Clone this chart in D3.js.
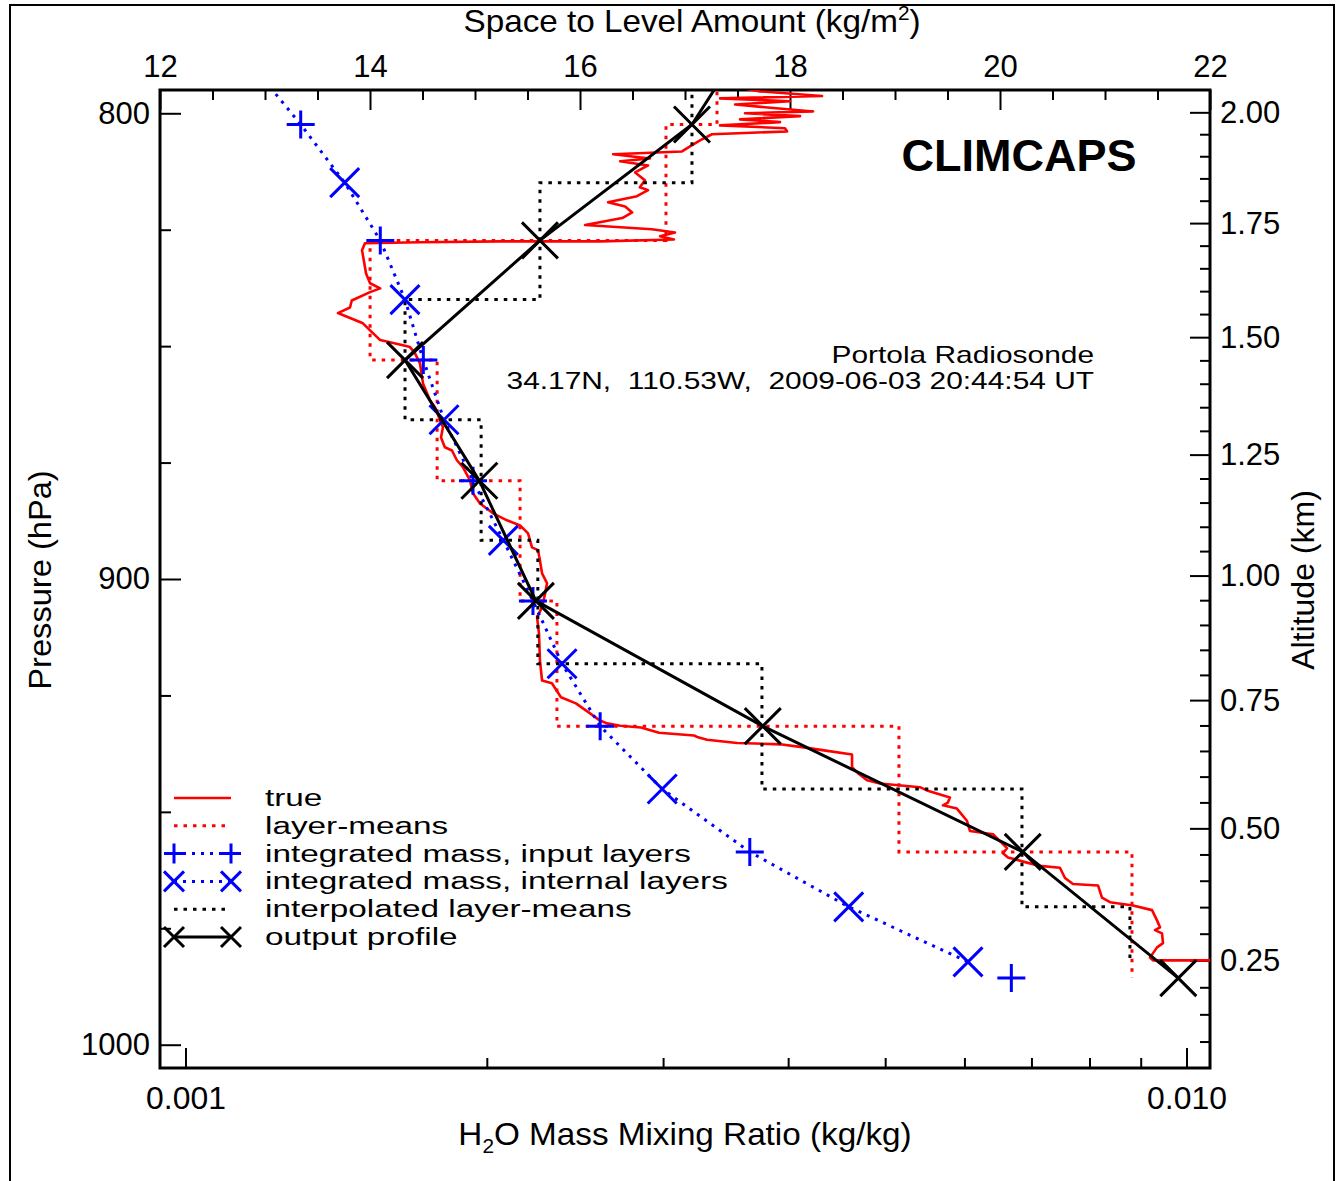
<!DOCTYPE html>
<html><head><meta charset="utf-8">
<script src="https://cdn.jsdelivr.net/npm/d3@7"></script>
<style>
body{margin:0;background:#fff;}
svg{display:block;}
text{font-family:"Liberation Sans",Arial,Helvetica,sans-serif;fill:#000;}
</style></head><body>
<svg id="chart" width="1344" height="1181"></svg>
<script>
// ---------------- DATA ----------------
// Radiosonde "true" profile: pressure (hPa) and H2O mass mixing ratio (kg/kg)
const truePressure = [792.9,795.3,796.3,796.8,797.4,798.1,798.7,799.6,800.0,800.6,801.3,801.9,802.6,803.2,803.9,804.5,805.8,807.1,808.2,808.8,809.7,810.3,811.2,812.7,814.4,815.9,816.5,817.8,819.1,820.0,821.3,822.5,824.0,824.9,825.6,826.4,827.1,827.5,827.5,827.7,827.9,829.4,834.4,836.5,837.6,838.4,840.2,841.7,842.9,845.1,846.6,848.7,849.8,850.2,851.5,853.7,858.0,861.6,863.1,867.4,869.6,871.7,872.4,874.5,876.0,878.8,881.6,883.8,885.9,887.4,888.5,890.2,893.2,893.8,896.0,898.8,900.9,903.1,906.1,908.2,911.7,917.5,921.8,922.4,925.4,926.7,928.7,930.4,931.0,931.5,931.9,933.0,933.6,934.0,934.5,935.2,935.5,936.1,936.8,937.7,940.4,941.7,943.2,943.9,944.7,945.4,946.9,948.0,948.6,949.3,951.9,954.1,954.8,956.3,957.8,958.9,959.8,960.9,961.6,962.0,964.2,965.5,965.8,968.4,969.4,970.1,971.1,973.3,974.8,975.4,976.1,978.2,979.1,981.3,981.9,981.9];
const trueMMR = [0.003266,0.003749,0.004324,0.003420,0.004017,0.003540,0.003793,0.004236,0.003622,0.004111,0.003581,0.003926,0.003420,0.003971,0.003990,0.003357,0.003266,0.003192,0.003133,0.002674,0.002911,0.002718,0.002898,0.002813,0.002877,0.002844,0.002898,0.002825,0.002643,0.002749,0.002794,0.002731,0.002507,0.002924,0.003083,0.002979,0.003076,0.002595,0.002062,0.001715,0.001511,0.001501,0.001515,0.001529,0.001565,0.001529,0.001466,0.001460,0.001420,0.001504,0.001529,0.001565,0.001649,0.001676,0.001695,0.001715,0.001727,0.001755,0.001775,0.001808,0.001800,0.001816,0.001846,0.001867,0.001893,0.001924,0.001937,0.001969,0.002029,0.002095,0.002159,0.002199,0.002219,0.002250,0.002260,0.002271,0.002297,0.002287,0.002271,0.002245,0.002255,0.002260,0.002271,0.002323,0.002372,0.002455,0.002530,0.002595,0.002637,0.002718,0.002851,0.002972,0.003221,0.003251,0.003319,0.003556,0.003926,0.004130,0.004344,0.004633,0.004633,0.004697,0.004796,0.004941,0.005416,0.005504,0.005803,0.005776,0.005710,0.005897,0.006034,0.006076,0.006407,0.006511,0.006617,0.006556,0.006632,0.006928,0.007139,0.007474,0.007561,0.007702,0.008158,0.008233,0.008386,0.008842,0.009237,0.009344,0.009408,0.009300,0.009452,0.009474,0.009344,0.009194,0.009258,0.011050];

// Input layer boundaries (hPa) and layer-mean mixing ratios (kg/kg)
const inputLayerBounds = [777.0,802.4,827.3,853.0,878.9,904.7,931.6,958.6,985.7];
const layerMeanMMR = [0.003396,0.003020,0.001529,0.001784,0.002159,0.002350,0.005161,0.008821];

// Integrated mass, input levels (hPa, kg/m^2)
const inputLevelP = [802.4,827.3,853.0,878.9,904.7,931.6,958.6,985.7];
const massInput = [13.340,14.098,14.508,14.981,15.552,16.192,17.617,20.108];

// Integrated mass, internal levels (hPa, kg/m^2)
const internalLevelP = [789.9,814.9,840.0,865.8,891.7,918.2,945.1,970.4,982.2];
const massInternal = [12.885,13.759,14.333,14.705,15.270,15.829,16.783,18.559,19.695];

// Interpolated layer-means on internal layers (kg/kg)
const interpLayerMMR = [0.003206,0.002260,0.001657,0.001974,0.002249,0.003766,0.006849,0.008780];

// Output profile (hPa, kg/kg)
const outputP = [777.0,802.4,827.3,853.0,878.9,904.7,931.6,958.6,985.7];
const outputMMR = [0.003819,0.003206,0.002260,0.001657,0.001966,0.002239,0.003773,0.006861,0.009813];

// Axis ticks
const pressureMajor = [800,900,1000];
const pressureMinor = [825,850,875,925,950,975];
const massMajor = [12,14,16,18,20,22];
const massMinor = [12.5,13,13.5,14.5,15,15.5,16.5,17,17.5,18.5,19,19.5,20.5,21,21.5];
const mmrMajor = [0.001,0.010];
const mmrMajorLabels = ["0.001","0.010"];
const mmrMinor = [0.002,0.003,0.004,0.005,0.006,0.007,0.008,0.009];
const altMajor = [0.25,0.50,0.75,1.00,1.25,1.50,1.75,2.00];
const altMinor = [0.10,0.15,0.20,0.30,0.35,0.40,0.45,0.55,0.60,0.65,0.70,0.80,0.85,0.90,0.95,1.05,1.10,1.15,1.20,1.30,1.35,1.40,1.45,1.55,1.60,1.65,1.70,1.80,1.85,1.90,1.95];
// altitude <-> pressure (hypsometric, isothermal)
const surfaceP = 1011.1, scaleHeight = 8.531;
const alt2p = z => surfaceP*Math.exp(-z/scaleHeight);

const legendLabels = ["true","layer-means","integrated mass, input layers","integrated mass, internal layers","interpolated layer-means","output profile"];

// ---------------- CHART ----------------
const W=1344,H=1181;
const L=160,R=1210,T=90,B=1068;
const svg=d3.select("#chart");
svg.append("rect").attr("width",W).attr("height",H).attr("fill","#fff");
svg.append("rect").attr("x",10).attr("y",5).attr("width",1324).attr("height",1200)
  .attr("fill","none").attr("stroke","#000").attr("stroke-width",2);

const x = d3.scaleLog().domain([0.0009431,0.010555]).range([L,R]);
const xTop = d3.scaleLinear().domain([12,22]).range([L,R]);
const y = d3.scaleLinear().domain([795,1005]).range([T,B]);

// text helper with horizontal stretch (the reference font is wide)
function txt(parent,x0,y0,str,size,sx,anchor,rot){
  const g=parent.append("g").attr("transform",`translate(${x0},${y0})${rot?` rotate(${rot})`:""} scale(${sx},1)`);
  const t=g.append("text").attr("text-anchor",anchor||"start").attr("font-size",size);
  if(str!==null) t.text(str);
  return t;
}

const FS=31;
function styleAxis(g){
  g.select(".domain").remove();
  g.selectAll(".tick line").attr("stroke","#000").attr("stroke-width",2);
  g.selectAll(".tick text").attr("font-size",FS).attr("font-family",'"Liberation Sans",Arial,sans-serif').attr("fill","#000");
}
// Left
svg.append("g").attr("transform",`translate(${L},0)`)
  .call(d3.axisLeft(y).tickValues(pressureMajor).tickFormat(d3.format("d")).tickSizeInner(-21).tickSizeOuter(0).tickPadding(10)).call(styleAxis);
svg.append("g").attr("transform",`translate(${L},0)`)
  .call(d3.axisLeft(y).tickValues(pressureMinor).tickFormat("").tickSizeInner(-11).tickSizeOuter(0)).call(styleAxis);
// Right (altitude)
svg.append("g").attr("transform",`translate(${R},0)`)
  .call(d3.axisRight(y).tickValues(altMajor.map(alt2p)).tickFormat((d,i)=>altMajor[i].toFixed(2)).tickSizeInner(-20).tickSizeOuter(0).tickPadding(10)).call(styleAxis);
svg.append("g").attr("transform",`translate(${R},0)`)
  .call(d3.axisRight(y).tickValues(altMinor.map(alt2p).filter(p=>p>=795&&p<=1005)).tickFormat("").tickSizeInner(-10).tickSizeOuter(0)).call(styleAxis);
// Top (mass)
svg.append("g").attr("transform",`translate(0,${T})`)
  .call(d3.axisTop(xTop).tickValues(massMajor).tickFormat(d3.format("d")).tickSizeInner(-20).tickSizeOuter(0).tickPadding(13)).call(styleAxis);
svg.append("g").attr("transform",`translate(0,${T})`)
  .call(d3.axisTop(xTop).tickValues(massMinor).tickFormat("").tickSizeInner(-10).tickSizeOuter(0)).call(styleAxis);
// Bottom (mmr)
const botAx = svg.append("g").attr("transform",`translate(0,${B})`)
  .call(d3.axisBottom(x).tickValues(mmrMajor).tickFormat((d,i)=>mmrMajorLabels[i]).tickSizeInner(-20).tickSizeOuter(0).tickPadding(19)).call(styleAxis);
svg.append("g").attr("transform",`translate(0,${B})`)
  .call(d3.axisBottom(x).tickValues(mmrMinor).tickFormat("").tickSizeInner(-10).tickSizeOuter(0)).call(styleAxis);
botAx.selectAll(".tick text").attr("transform","scale(1.03,1)");

svg.append("rect").attr("x",L).attr("y",T).attr("width",R-L).attr("height",B-T)
  .attr("fill","none").attr("stroke","#000").attr("stroke-width",3);

// Axis titles
const topTitle = txt(svg,692,32,null,32,1.04,"middle");
topTitle.append("tspan").text("Space to Level Amount (kg/m");
topTitle.append("tspan").attr("font-size",20).attr("dy",-12).text("2");
topTitle.append("tspan").attr("dy",12).text(")");
const botTitle = txt(svg,685,1145,null,32,1.04,"middle");
botTitle.append("tspan").text("H");
botTitle.append("tspan").attr("font-size",20).attr("dy",8).text("2");
botTitle.append("tspan").attr("dy",-8).text("O Mass Mixing Ratio (kg/kg)");
txt(svg,51,580,"Pressure (hPa)",32,1.02,"middle",-90);
txt(svg,1314,580,"Altitude (km)",32,1.0,"middle",-90);

// Plot content (clipped)
svg.append("clipPath").attr("id","clip").append("rect").attr("x",L).attr("y",T).attr("width",R-L).attr("height",B-T);
const g = svg.append("g").attr("clip-path","url(#clip)");

function stepPoints(bounds, vals){
  const pts=[];
  vals.forEach((v,i)=>{pts.push([v,bounds[i]]);pts.push([v,bounds[i+1]]);});
  return pts;
}
const lineMMR = d3.line().x(d=>x(d[0])).y(d=>y(d[1]));
const lineMass = d3.line().x(d=>xTop(d[0])).y(d=>y(d[1]));

// true
g.append("path").attr("d",lineMMR(trueMMR.map((m,i)=>[m,truePressure[i]])))
  .attr("fill","none").attr("stroke","#ff0000").attr("stroke-width",2.6).attr("stroke-linejoin","round");
// layer means
g.append("path").attr("d",lineMMR(stepPoints(inputLayerBounds,layerMeanMMR)))
  .attr("fill","none").attr("stroke","#ff0000").attr("stroke-width",3).attr("stroke-dasharray","3.5,6");
// interpolated layer means
g.append("path").attr("d",lineMMR(stepPoints(internalLevelP,interpLayerMMR)))
  .attr("fill","none").attr("stroke","#000").attr("stroke-width",3).attr("stroke-dasharray","3.5,6");
// integrated mass line
const massPts = inputLevelP.map((p,i)=>[massInput[i],p]).concat(internalLevelP.map((p,i)=>[massInternal[i],p]))
  .filter(d=>d[1]<=d3.max(internalLevelP)).sort((a,b)=>a[1]-b[1]);
g.append("path").attr("d",lineMass(massPts))
  .attr("fill","none").attr("stroke","#0000ff").attr("stroke-width",3).attr("stroke-dasharray","3,6");
const plusPath = s=>`M${-s},0H${s}M0,${-s}V${s}`;
const crossPath = s=>`M${-s},${-s}L${s},${s}M${-s},${s}L${s},${-s}`;
g.selectAll(".plusM").data(inputLevelP).join("path")
  .attr("transform",(p,i)=>`translate(${xTop(massInput[i])},${y(p)})`)
  .attr("d",plusPath(14)).attr("stroke","#0000ff").attr("stroke-width",3);
g.selectAll(".crossM").data(internalLevelP).join("path")
  .attr("transform",(p,i)=>`translate(${xTop(massInternal[i])},${y(p)})`)
  .attr("d",crossPath(14.5)).attr("stroke","#0000ff").attr("stroke-width",3);
// output profile
g.append("path").attr("d",lineMMR(outputMMR.map((m,i)=>[m,outputP[i]])))
  .attr("fill","none").attr("stroke","#000").attr("stroke-width",3);
g.selectAll(".crossO").data(outputP).join("path")
  .attr("transform",(p,i)=>`translate(${x(outputMMR[i])},${y(p)})`)
  .attr("d",crossPath(18)).attr("stroke","#000").attr("stroke-width",3);

// Labels in plot
txt(svg,1019,171,"CLIMCAPS",45,1.0,"middle").attr("font-weight","bold");
txt(svg,1094,363,"Portola Radiosonde",23,1.3,"end");
txt(svg,1094,389,"34.17N,  110.53W,  2009-06-03 20:44:54 UT",23,1.3,"end").style("white-space","pre");

// Legend
const lgY0=798, lgDy=27.8, lx1=174, lx2=231, ltx=265;
const leg = svg.append("g");
legendLabels.forEach((lab,i)=>{
  const yy=lgY0+i*lgDy;
  const ln = leg.append("line").attr("x1",lx1).attr("x2",lx2).attr("y1",yy).attr("y2",yy).attr("stroke-width",i===0?2.6:3);
  if(i===0) ln.attr("stroke","#ff0000");
  if(i===1) ln.attr("stroke","#ff0000").attr("stroke-dasharray","3.5,6");
  if(i===2||i===3) ln.attr("stroke","#0000ff").attr("stroke-dasharray","3,6");
  if(i===4) ln.attr("stroke","#000").attr("stroke-dasharray","3.5,6");
  if(i===5) ln.attr("stroke","#000");
  if(i>=2 && i!==4){
    const col = i===5?"#000":"#0000ff";
    const shape = i===2?plusPath(10):crossPath(10);
    [lx1,lx2].forEach(xx=>leg.append("path").attr("transform",`translate(${xx},${yy})`).attr("d",shape).attr("stroke",col).attr("stroke-width",3));
  }
  txt(leg,ltx,yy+8,lab,24.5,1.36,"start");
});
</script>
</body></html>
